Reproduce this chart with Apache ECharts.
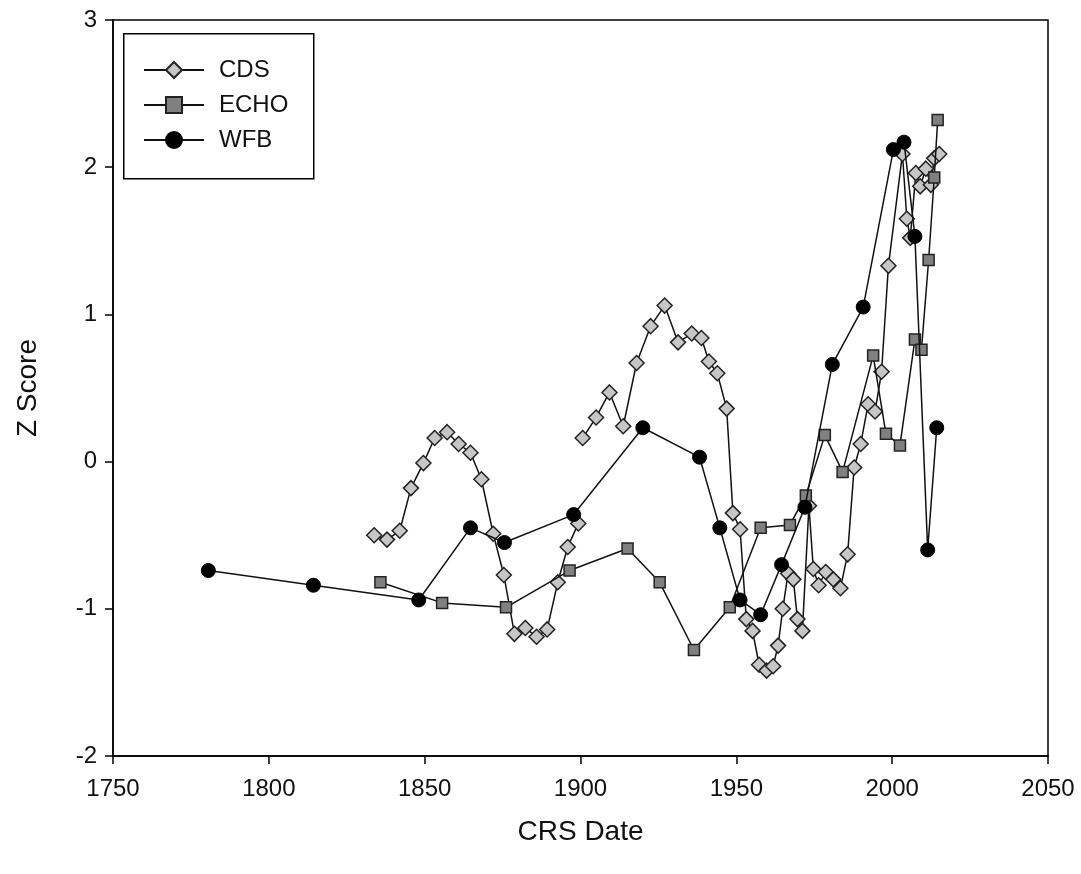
<!DOCTYPE html>
<html>
<head>
<meta charset="utf-8">
<script src="https://cdn.jsdelivr.net/npm/echarts@6/dist/echarts.min.js"></script>
<style>
html,body{margin:0;padding:0;background:#fff;}
#chart{width:1081px;height:874px;}
</style>
</head>
<body>
<div id="chart"></div>
<script>
// CDS (null marks a break in the line)
const cdsYears = [1833.8,1837.9,1842.0,1845.6,1849.6,1853.2,1857.2,1860.9,1864.7,1868.2,1872.0,1875.4,1878.8,1882.3,1885.9,1889.3,1892.7,1895.9,1899.3,
  1900.0,
  1900.7,1905.0,1909.3,1913.7,1918.0,1922.5,1927.0,1931.3,1935.7,1938.8,1941.2,1943.9,1946.9,1948.9,1951.2,1953.2,1955.2,1957.3,1959.7,1961.8,1963.4,1964.9,1966.6,1968.3,1969.6,1971.2,1973.3,1974.7,1976.4,1978.7,1981.1,1983.4,1985.7,1987.8,1989.9,1992.3,1994.5,1996.6,1998.8,2003.3,2004.7,2005.8,2007.6,2009.0,2010.8,2012.4,2013.5,2015.1];
const cdsZ = [-0.50,-0.53,-0.47,-0.18,-0.01,0.16,0.20,0.12,0.06,-0.12,-0.49,-0.77,-1.17,-1.13,-1.19,-1.14,-0.82,-0.58,-0.42,
  null,
  0.16,0.30,0.47,0.24,0.67,0.92,1.06,0.81,0.87,0.84,0.68,0.60,0.36,-0.35,-0.46,-1.07,-1.15,-1.38,-1.42,-1.39,-1.25,-1.00,-0.76,-0.80,-1.07,-1.15,-0.30,-0.73,-0.84,-0.75,-0.80,-0.86,-0.63,-0.04,0.12,0.39,0.34,0.61,1.33,2.09,1.65,1.52,1.96,1.87,1.99,1.88,2.06,2.09];

// ECHO
const echoYears = [1835.8,1855.6,1876.1,1896.5,1915.1,1925.4,1936.4,1947.9,1957.8,1967.2,1972.3,1978.4,1984.1,1993.9,1998.0,2002.5,2007.3,2009.4,2011.7,2013.5,2014.6];
const echoZ = [-0.82,-0.96,-0.99,-0.74,-0.59,-0.82,-1.28,-0.99,-0.45,-0.43,-0.23,0.18,-0.07,0.72,0.19,0.11,0.83,0.76,1.37,1.93,2.32];

// WFB
const wfbYears = [1780.6,1814.3,1848.1,1864.7,1875.6,1897.8,1920.0,1938.2,1944.7,1951.2,1957.8,1964.5,1972.0,1980.8,1990.7,2000.4,2003.8,2007.3,2011.4,2014.3];
const wfbZ = [-0.74,-0.84,-0.94,-0.45,-0.55,-0.36,0.23,0.03,-0.45,-0.94,-1.04,-0.70,-0.31,0.66,1.05,2.12,2.17,1.53,-0.60,0.23];

const seriesNames = ['CDS','ECHO','WFB'];
const xTicks = {min:1750, max:2050, interval:50};
const yTicks = {min:-2, max:3, interval:1};

function pairs(xs, ys){ return xs.map((x,i)=>[x, ys[i]===null ? '-' : ys[i]]); }

const FONT = '"Liberation Sans", Arial, sans-serif';
const chart = echarts.init(document.getElementById('chart'), null, {renderer:'canvas'});
chart.setOption({
  animation:false,
  backgroundColor:'#fff',
  grid:{left:113, right:33, top:20, bottom:118, show:true, borderColor:'#000', borderWidth:1.5, backgroundColor:'transparent'},
  graphic:[{
    type:'rect', left:123, top:33, z:0,
    shape:{width:190, height:145},
    style:{fill:'#fff', stroke:'#000', lineWidth:1.5}
  }],
  legend:{
    data:seriesNames,
    orient:'vertical',
    left:143, top:58,
    padding:0,
    itemGap:11,
    itemWidth:60, itemHeight:20,
    borderWidth:0,
    textStyle:{fontFamily:FONT, fontSize:24, lineHeight:24, color:'#111', padding:[0,0,0,10]},
    z:10
  },
  xAxis:{
    type:'value', min:xTicks.min, max:xTicks.max, interval:xTicks.interval,
    name:'CRS Date', nameLocation:'middle', nameGap:62,
    nameTextStyle:{fontFamily:FONT, fontSize:28, color:'#111'},
    axisLine:{show:true, onZero:false, lineStyle:{color:'#000', width:1.5}},
    axisTick:{show:true, inside:false, length:8, lineStyle:{color:'#000', width:1.5}},
    axisLabel:{fontFamily:FONT, fontSize:24, color:'#111', margin:21, formatter:v=>String(v)},
    splitLine:{show:false}
  },
  yAxis:{
    type:'value', min:yTicks.min, max:yTicks.max, interval:yTicks.interval,
    name:'Z Score', nameLocation:'middle', nameGap:71,
    nameTextStyle:{fontFamily:FONT, fontSize:28, color:'#111'},
    axisLine:{show:true, onZero:false, lineStyle:{color:'#000', width:1.5}},
    axisTick:{show:true, inside:false, length:8, lineStyle:{color:'#000', width:1.5}},
    axisLabel:{fontFamily:FONT, fontSize:24, color:'#111', margin:16, formatter:v=>String(v)},
    splitLine:{show:false}
  },
  series:[
    {name:'CDS', type:'line', data:pairs(cdsYears, cdsZ), connectNulls:false,
     symbol:'diamond', symbolSize:15, showAllSymbol:true,
     lineStyle:{color:'#111', width:1.5},
     itemStyle:{color:'#c6c6c6', borderColor:'#222', borderWidth:1.5}, z:2},
    {name:'ECHO', type:'line', data:pairs(echoYears, echoZ),
     symbol:'rect', symbolSize:11, showAllSymbol:true,
     lineStyle:{color:'#111', width:1.5},
     itemStyle:{color:'#808080', borderColor:'#222', borderWidth:1.5}, z:3},
    {name:'WFB', type:'line', data:pairs(wfbYears, wfbZ),
     symbol:'circle', symbolSize:14, showAllSymbol:true,
     lineStyle:{color:'#111', width:1.5},
     itemStyle:{color:'#000', borderColor:'#000', borderWidth:1}, z:4}
  ]
});
</script>
</body>
</html>
